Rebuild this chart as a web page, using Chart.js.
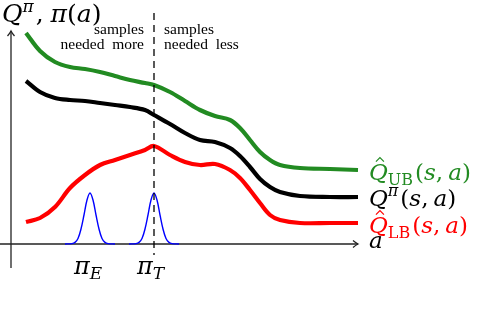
<!DOCTYPE html>
<html><head><meta charset="utf-8">
<script src="https://cdn.jsdelivr.net/npm/chart.js@4"></script>
<style>html,body{margin:0;padding:0;background:#fff}#wrap{width:480px;height:314px}</style>
</head><body><div id="wrap"><canvas id="c" width="480" height="314"></canvas></div>
<script>
// action axis positions (shared by the three value curves)
const actions = [15,29,44,59,74,89,104,119,134,143,159,174,189,204,219,229,239,249,259,269,289,319,347];
const qUpper  = [211,193,182,177,175,172,168,164,161,159,152,143,134,128,124,116,104,92,84,79,76,75,74];
const qTrue   = [163,152,146,144,143,141,139,137,134,129,120,111,104,102,96,88,77,65,57,52,48,47,47];
const qLower  = [22,26,37,56,69,79,84,89,94,98,89,82,79,80,74,66,54,41,29,24,21,21,21];
// policy densities
const piOffsets = [-25,-18,-15,-12,-9,-6,-3,0,3,6,9,12,15,18,25];
const piDensity = [0,0.4,1.6,5.5,15,29,44,51,44,29,15,5.5,1.6,0.4,0];
const piECenter = 79, piTCenter = 143;
const splitAction = 143;

const toPts = (xs, ys) => xs.map((x, i) => ({x, y: ys[i]}));
const piE = piOffsets.map((o, i) => ({x: piECenter + o, y: piDensity[i]}));
const piT = piOffsets.map((o, i) => ({x: piTCenter + o, y: piDensity[i]}));

const SERIF = '"Liberation Serif",serif';
const MATH = '"DejaVu Serif",serif';
function drawMath(ctx, x, y, parts, color) {
  ctx.save();
  ctx.fillStyle = color; ctx.textBaseline = 'alphabetic'; ctx.textAlign = 'left';
  let cx = x;
  for (const p of parts) {
    ctx.font = (p.i ? 'italic ' : '') + p.s + 'px ' + MATH;
    const w = ctx.measureText(p.t).width;
    ctx.fillText(p.t, cx, y + (p.dy || 0));
    if (p.hat) {
      ctx.strokeStyle = color; ctx.lineWidth = 1.2;
      ctx.beginPath();
      const hx = cx + w * 0.58, hy = y - p.s * 0.8;
      ctx.moveTo(hx - 4, hy); ctx.lineTo(hx, hy - 4); ctx.lineTo(hx + 4, hy);
      ctx.stroke();
    }
    cx += w + (p.sp || 0);
  }
  ctx.restore();
}

const overlay = {
  id: 'overlay',
  beforeDatasetsDraw(chart) {
    const {ctx, scales: {x, y}} = chart;
    ctx.save();
    ctx.strokeStyle = '#222'; ctx.lineWidth = 1.3;
    const x0 = x.getPixelForValue(0), y0 = y.getPixelForValue(0);
    const yTop = y.getPixelForValue(213), yBot = y.getPixelForValue(-24);
    ctx.beginPath(); ctx.moveTo(x0, yBot); ctx.lineTo(x0, yTop); ctx.stroke();
    ctx.beginPath(); ctx.moveTo(x0 - 3.5, yTop + 5); ctx.quadraticCurveTo(x0 - 1, yTop + 2, x0, yTop);
    ctx.quadraticCurveTo(x0 + 1, yTop + 2, x0 + 3.5, yTop + 5); ctx.stroke();
    const xL = x.getPixelForValue(-11), xR = x.getPixelForValue(347);
    ctx.beginPath(); ctx.moveTo(xL, y0); ctx.lineTo(xR, y0); ctx.stroke();
    ctx.beginPath(); ctx.moveTo(xR - 5, y0 - 3.5); ctx.quadraticCurveTo(xR - 2, y0 - 1, xR, y0);
    ctx.quadraticCurveTo(xR - 2, y0 + 1, xR - 5, y0 + 3.5); ctx.stroke();
    ctx.restore();
  },
  afterDatasetsDraw(chart) {
    const {ctx, scales: {x, y}} = chart;
    ctx.save();
    ctx.strokeStyle = '#000'; ctx.lineWidth = 1.3; ctx.setLineDash([7, 5]);
    const xs = x.getPixelForValue(splitAction);
    ctx.beginPath(); ctx.moveTo(xs, y.getPixelForValue(231)); ctx.lineTo(xs, y.getPixelForValue(-11)); ctx.stroke();
    ctx.restore();

    drawMath(ctx, 2, 22, [
      {t: 'Q', i: 1, s: 25}, {t: 'π', i: 1, s: 17, dy: -10, sp: 2},
      {t: ',', s: 25, sp: 7}, {t: 'π', i: 1, s: 25}, {t: '(', s: 25}, {t: 'a', i: 1, s: 25}, {t: ')', s: 25}
    ], '#000');

    ctx.save();
    ctx.fillStyle = '#000'; ctx.font = '15.5px ' + SERIF;
    ctx.textAlign = 'right';
    ctx.fillText('samples', xs - 10, 34);
    ctx.fillText('needed  more', xs - 10, 49);
    ctx.textAlign = 'left';
    ctx.fillText('samples', xs + 10, 34);
    ctx.fillText('needed  less', xs + 10, 49);
    ctx.restore();

    const lx = 369, S = 23;
    drawMath(ctx, lx, 180, [
      {t: 'Q', i: 1, s: S, hat: 1}, {t: 'UB', s: 16, dy: 5, sp: 2},
      {t: '(', s: S}, {t: 's', i: 1, s: S}, {t: ',', s: S, sp: 5}, {t: 'a', i: 1, s: S}, {t: ')', s: S}
    ], '#228B22');
    drawMath(ctx, lx, 206, [
      {t: 'Q', i: 1, s: S}, {t: 'π', i: 1, s: 16, dy: -10, sp: 2},
      {t: '(', s: S}, {t: 's', i: 1, s: S}, {t: ',', s: S, sp: 5}, {t: 'a', i: 1, s: S}, {t: ')', s: S}
    ], '#000');
    drawMath(ctx, lx, 233, [
      {t: 'Q', i: 1, s: S, hat: 1}, {t: 'LB', s: 16, dy: 5, sp: 2},
      {t: '(', s: S}, {t: 's', i: 1, s: S}, {t: ',', s: S, sp: 5}, {t: 'a', i: 1, s: S}, {t: ')', s: S}
    ], '#ff0000');
    drawMath(ctx, lx, 248, [{t: 'a', i: 1, s: S}], '#000');

    drawMath(ctx, 74, 274, [{t: 'π', i: 1, s: 24}, {t: 'E', i: 1, s: 17, dy: 5}], '#000');
    drawMath(ctx, 137, 274, [{t: 'π', i: 1, s: 24}, {t: 'T', i: 1, s: 17, dy: 5}], '#000');
  }
};

const line = (data, color, w) => ({
  data, borderColor: color, borderWidth: w, pointRadius: 0, fill: false,
  tension: 0.35, borderCapStyle: 'butt', borderJoinStyle: 'round'
});

new Chart(document.getElementById('c'), {
  type: 'line',
  data: {
    datasets: [
      line(toPts(actions, qUpper), '#228B22', 4.2),
      line(toPts(actions, qTrue), '#000000', 4.2),
      line(toPts(actions, qLower), '#ff0000', 4.2),
      line(piE, '#0000ff', 1.4),
      line(piT, '#0000ff', 1.4)
    ]
  },
  options: {
    responsive: false, animation: false, maintainAspectRatio: false,
    layout: {padding: 0},
    plugins: {legend: {display: false}, tooltip: {enabled: false}},
    scales: {
      x: {type: 'linear', display: false, min: -11, max: 469},
      y: {type: 'linear', display: false, min: -70, max: 244}
    }
  },
  plugins: [overlay]
});
</script>
</body></html>
